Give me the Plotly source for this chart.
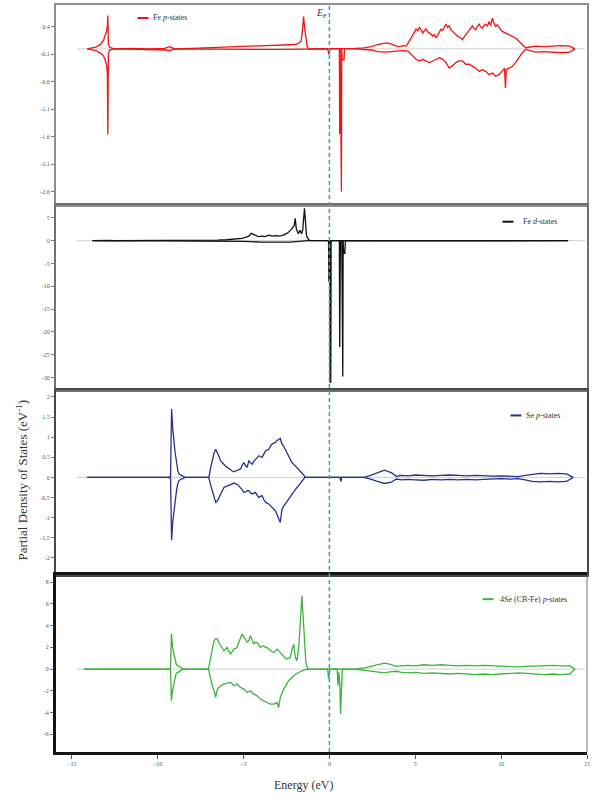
import plotly.graph_objects as go
from plotly.subplots import make_subplots

# ---------------- data (energy in eV, PDOS in 1/eV) ----------------
fe_p_up = [(-14.1, 0), (-13.8, 0.01), (-13.6, 0.03), (-13.45, 0.06), (-13.3, 0.09), (-13.15, 0.16), (-13.05, 0.24),
           (-12.97, 0.33), (-12.93, 0.42), (-12.9, 0.61), (-12.87, 0.1), (-12.8, 0.03), (-12.6, 0.01), (-12.3, 0.0),
           (-11.5, 0.01), (-10.5, 0.0), (-9.6, 0.01), (-9.45, 0.03), (-9.3, 0.04), (-9.15, 0.02), (-9.0, 0.0),
           (-8.0, 0.01), (-7.0, 0.02), (-6.0, 0.03), (-5.0, 0.04), (-4.0, 0.05), (-3.0, 0.06), (-2.5, 0.07),
           (-2.0, 0.08), (-1.8, 0.1), (-1.65, 0.14), (-1.58, 0.3), (-1.53, 0.48), (-1.5, 0.59), (-1.45, 0.4),
           (-1.38, 0.2), (-1.3, 0.05), (-1.2, 0.0), (-0.5, 0.0), (0.5, 0.0), (1.5, 0.01), (2.0, 0.02), (2.45, 0.04),
           (2.8, 0.08), (3.1, 0.1), (3.32, 0.11), (3.6, 0.09), (3.9, 0.05), (4.1, 0.04), (4.3, 0.06), (4.48, 0.05),
           (4.57, 0.1), (4.7, 0.17), (4.86, 0.25), (4.95, 0.3), (5.05, 0.36), (5.15, 0.33), (5.24, 0.39),
           (5.34, 0.35), (5.44, 0.29), (5.53, 0.33), (5.63, 0.36), (5.72, 0.31), (5.82, 0.29), (5.92, 0.27),
           (6.02, 0.23), (6.11, 0.26), (6.21, 0.2), (6.30, 0.25), (6.40, 0.32), (6.50, 0.36), (6.59, 0.34),
           (6.69, 0.4), (6.79, 0.45), (6.88, 0.39), (6.98, 0.42), (7.07, 0.35), (7.17, 0.32), (7.27, 0.28),
           (7.36, 0.26), (7.46, 0.23), (7.56, 0.22), (7.65, 0.19), (7.75, 0.17), (7.85, 0.22), (7.94, 0.26),
           (8.04, 0.3), (8.14, 0.34), (8.23, 0.38), (8.33, 0.42), (8.43, 0.37), (8.52, 0.35), (8.62, 0.41),
           (8.72, 0.45), (8.81, 0.4), (8.91, 0.38), (9.01, 0.43), (9.10, 0.45), (9.20, 0.41), (9.30, 0.5),
           (9.39, 0.42), (9.49, 0.56), (9.58, 0.47), (9.68, 0.41), (9.78, 0.44), (9.88, 0.38), (9.97, 0.35),
           (10.07, 0.32), (10.26, 0.29), (10.46, 0.26), (10.65, 0.23), (10.84, 0.2), (11.04, 0.14), (11.23, 0.08),
           (11.42, 0.02), (11.6, 0.03), (12.0, 0.05), (12.5, 0.04), (13.0, 0.05), (13.5, 0.06), (14.0, 0.05),
           (14.3, 0.0)]
fe_p_dn = [(-14.1, 0), (-13.8, -0.01), (-13.6, -0.03), (-13.45, -0.06), (-13.3, -0.08), (-13.15, -0.13),
           (-13.05, -0.2), (-12.97, -0.3), (-12.93, -0.45), (-12.9, -1.56), (-12.87, -0.1), (-12.8, -0.02),
           (-12.5, 0.0), (-9.5, -0.02), (-9.3, -0.03), (-9.1, -0.01), (-8.5, 0.0), (-3.0, -0.01), (-1.6, -0.01),
           (-1.0, 0.0), (-0.1, 0.0), (-0.03, -0.1), (0.03, 0.0), (0.58, 0.0), (0.6, -1.55), (0.63, 0.0),
           (0.66, -2.6), (0.7, -2.6), (0.72, 0.0), (0.75, -0.2), (0.85, -0.2), (0.88, 0.0), (1.5, 0.0),
           (2.0, -0.01), (2.45, -0.02), (2.8, -0.05), (3.32, -0.06), (3.9, -0.04), (4.3, -0.03), (4.57, -0.04),
           (4.86, -0.13), (5.05, -0.19), (5.24, -0.22), (5.44, -0.19), (5.63, -0.22), (5.82, -0.25), (6.02, -0.22),
           (6.21, -0.19), (6.40, -0.16), (6.59, -0.19), (6.79, -0.25), (6.98, -0.35), (7.17, -0.31), (7.36, -0.25),
           (7.56, -0.22), (7.75, -0.22), (7.94, -0.28), (8.14, -0.28), (8.33, -0.31), (8.52, -0.35), (8.72, -0.41),
           (8.91, -0.38), (9.10, -0.41), (9.30, -0.47), (9.49, -0.44), (9.68, -0.5), (9.88, -0.47), (10.07, -0.41),
           (10.2, -0.35), (10.25, -0.71), (10.3, -0.38), (10.46, -0.35), (10.65, -0.32), (10.84, -0.25),
           (11.04, -0.16), (11.23, -0.07), (11.42, -0.01), (11.6, -0.03), (12.0, -0.06), (12.5, -0.05),
           (13.0, -0.06), (13.5, -0.07), (14.0, -0.06), (14.3, 0.0)]

fe_d_up = [(-13.8, 0), (-13.2, 0.05), (-13.0, 0.2), (-12.9, 0.05), (-12.5, 0), (-7.0, 0.0), (-6.5, 0.1),
           (-6.0, 0.2), (-5.66, 0.3), (-5.3, 0.4), (-5.08, 0.5), (-4.9, 0.7), (-4.69, 1.0), (-4.55, 1.6),
           (-4.45, 1.4), (-4.3, 1.1), (-4.15, 0.9), (-3.92, 1.0), (-3.75, 0.9), (-3.53, 1.2), (-3.35, 1.0),
           (-3.14, 1.1), (-2.95, 1.0), (-2.76, 1.1), (-2.6, 1.3), (-2.47, 1.6), (-2.28, 2.2), (-2.15, 2.7),
           (-2.05, 3.3), (-1.99, 4.9), (-1.93, 2.7), (-1.85, 1.8), (-1.8, 1.6), (-1.72, 2.3), (-1.62, 1.5),
           (-1.55, 2.5), (-1.5, 5.4), (-1.45, 7.1), (-1.4, 4.5), (-1.33, 1.0), (-1.22, 0.3), (-1.12, 0.0),
           (13.9, 0.0)]
fe_d_dn = [(-13.8, 0), (-13.2, -0.05), (-13.0, -0.2), (-12.9, -0.05), (-12.5, 0), (-6.0, -0.05), (-5.0, -0.15),
           (-4.0, -0.3), (-3.0, -0.35), (-2.3, -0.3), (-1.8, -0.15), (-1.2, 0.0), (-0.05, 0.0), (-0.03, -9.0),
           (0.0, 0.0), (0.02, 0.0), (0.04, -31.0), (0.08, -31.0), (0.1, 0.0), (0.58, 0.0), (0.6, -23.3),
           (0.64, 0.0), (0.72, 0.0), (0.74, -29.8), (0.78, -29.8), (0.8, 0.0), (0.83, -2.8), (0.9, -2.8),
           (0.93, 0.0), (2.0, -0.05), (5.0, -0.05), (10.0, -0.05), (13.9, 0.0)]

se_p_up = [(-14.1, 0), (-9.4, 0), (-9.25, 0.02), (-9.19, 1.70), (-9.12, 1.2), (-9.05, 0.85), (-8.98, 0.6),
           (-8.93, 0.47), (-8.88, 0.3), (-8.82, 0.15), (-8.74, 0.08), (-8.65, 0.06), (-8.55, 0.02), (-8.4, 0),
           (-7.05, 0), (-7.01, 0.02), (-6.91, 0.25), (-6.81, 0.45), (-6.72, 0.6), (-6.62, 0.70), (-6.52, 0.62),
           (-6.43, 0.52), (-6.33, 0.41), (-6.24, 0.36), (-6.14, 0.33), (-6.04, 0.28), (-5.95, 0.25), (-5.85, 0.21),
           (-5.75, 0.19), (-5.66, 0.16), (-5.56, 0.14), (-5.46, 0.16), (-5.37, 0.17), (-5.27, 0.2), (-5.17, 0.21),
           (-5.08, 0.3), (-4.98, 0.37), (-4.88, 0.29), (-4.79, 0.25), (-4.69, 0.41), (-4.6, 0.36), (-4.50, 0.33),
           (-4.4, 0.4), (-4.31, 0.45), (-4.21, 0.5), (-4.11, 0.54), (-4.02, 0.52), (-3.92, 0.50), (-3.82, 0.58),
           (-3.72, 0.66), (-3.63, 0.68), (-3.53, 0.70), (-3.44, 0.77), (-3.34, 0.83), (-3.24, 0.85), (-3.14, 0.87),
           (-3.05, 0.92), (-2.95, 0.95), (-2.86, 0.97), (-2.81, 0.9), (-2.76, 0.83), (-2.67, 0.78), (-2.57, 0.70),
           (-2.47, 0.62), (-2.37, 0.54), (-2.28, 0.46), (-2.18, 0.37), (-2.08, 0.33), (-1.99, 0.29), (-1.89, 0.25),
           (-1.80, 0.21), (-1.70, 0.16), (-1.60, 0.12), (-1.5, 0.06), (-1.41, 0.0), (2.0, 0.0), (2.4, 0.05),
           (2.8, 0.12), (3.2, 0.18), (3.6, 0.12), (3.9, 0.03), (4.2, 0.05), (4.6, 0.04), (5.0, 0.06), (5.5, 0.05),
           (6.0, 0.04), (6.5, 0.05), (7.0, 0.06), (7.5, 0.05), (8.0, 0.04), (8.5, 0.05), (9.0, 0.04), (9.5, 0.03),
           (10.0, 0.04), (10.5, 0.03), (11.0, 0.02), (11.4, 0.05), (11.8, 0.08), (12.3, 0.1), (12.8, 0.09),
           (13.3, 0.1), (13.8, 0.09), (14.2, 0.0)]
se_p_dn = [(-14.1, 0), (-9.4, 0), (-9.25, -0.02), (-9.19, -1.56), (-9.12, -1.1), (-9.05, -0.8), (-8.98, -0.55),
           (-8.93, -0.42), (-8.88, -0.27), (-8.82, -0.14), (-8.74, -0.07), (-8.65, -0.05), (-8.55, -0.02),
           (-8.4, 0), (-7.05, 0), (-7.01, -0.02), (-6.91, -0.2), (-6.81, -0.37), (-6.72, -0.5), (-6.62, -0.62),
           (-6.52, -0.58), (-6.43, -0.5), (-6.33, -0.41), (-6.24, -0.33), (-6.14, -0.25), (-6.04, -0.23),
           (-5.95, -0.22), (-5.85, -0.21), (-5.75, -0.18), (-5.66, -0.16), (-5.56, -0.14), (-5.46, -0.16),
           (-5.37, -0.17), (-5.27, -0.21), (-5.17, -0.25), (-5.08, -0.31), (-4.98, -0.37), (-4.88, -0.36),
           (-4.79, -0.33), (-4.69, -0.33), (-4.6, -0.38), (-4.50, -0.41), (-4.4, -0.39), (-4.31, -0.37),
           (-4.21, -0.44), (-4.11, -0.50), (-4.02, -0.47), (-3.92, -0.45), (-3.82, -0.55), (-3.72, -0.62),
           (-3.63, -0.64), (-3.53, -0.66), (-3.44, -0.70), (-3.34, -0.74), (-3.24, -0.78), (-3.14, -0.83),
           (-3.05, -0.92), (-2.95, -1.03), (-2.86, -1.12), (-2.81, -0.95), (-2.76, -0.79), (-2.67, -0.72),
           (-2.57, -0.66), (-2.47, -0.6), (-2.37, -0.54), (-2.28, -0.47), (-2.18, -0.41), (-2.08, -0.35),
           (-1.99, -0.29), (-1.89, -0.25), (-1.80, -0.21), (-1.70, -0.15), (-1.60, -0.08), (-1.5, -0.04),
           (-1.41, 0.0), (0.6, 0.0), (0.68, -0.1), (0.72, 0.0), (2.0, 0.0), (2.4, -0.04), (2.8, -0.1),
           (3.2, -0.15), (3.6, -0.12), (3.9, -0.04), (4.2, -0.06), (4.6, -0.05), (5.0, -0.06), (5.5, -0.07),
           (6.0, -0.05), (6.5, -0.06), (7.0, -0.05), (7.5, -0.06), (8.0, -0.05), (8.5, -0.06), (9.0, -0.05),
           (9.5, -0.04), (10.0, -0.03), (10.5, -0.04), (11.0, -0.03), (11.4, -0.06), (11.8, -0.1), (12.3, -0.11),
           (12.8, -0.1), (13.3, -0.11), (13.8, -0.1), (14.2, 0.0)]

se4_p_up = [(-14.3, 0), (-9.35, 0), (-9.25, 0.1), (-9.2, 3.28), (-9.13, 2.0), (-9.05, 1.38), (-8.98, 0.9),
            (-8.92, 0.46), (-8.85, 0.32), (-8.75, 0.28), (-8.65, 0.15), (-8.5, 0.0), (-7.04, 0.0), (-6.91, 1.07),
            (-6.81, 1.9), (-6.72, 2.61), (-6.62, 2.8), (-6.52, 2.76), (-6.43, 2.4), (-6.33, 2.15), (-6.24, 1.9),
            (-6.14, 1.69), (-6.04, 1.85), (-5.95, 1.99), (-5.85, 1.6), (-5.75, 1.38), (-5.66, 1.6), (-5.56, 1.84),
            (-5.46, 1.9), (-5.37, 1.99), (-5.27, 2.5), (-5.17, 2.91), (-5.08, 3.22), (-4.98, 2.9), (-4.88, 2.76),
            (-4.79, 2.5), (-4.69, 2.61), (-4.60, 3.07), (-4.5, 2.7), (-4.40, 2.30), (-4.31, 2.5), (-4.21, 2.45),
            (-4.11, 2.2), (-4.02, 1.99), (-3.92, 2.1), (-3.82, 2.15), (-3.72, 2.0), (-3.63, 1.99), (-3.53, 1.85),
            (-3.44, 1.69), (-3.34, 1.6), (-3.24, 1.53), (-3.14, 1.7), (-3.05, 1.84), (-2.95, 1.7), (-2.86, 1.53),
            (-2.76, 1.3), (-2.66, 1.07), (-2.57, 1.0), (-2.47, 0.92), (-2.38, 1.0), (-2.28, 1.07), (-2.18, 1.8),
            (-2.08, 2.30), (-2.03, 1.5), (-1.99, 1.07), (-1.94, 0.9), (-1.89, 0.77), (-1.82, 1.5), (-1.76, 2.61),
            (-1.7, 4.0), (-1.64, 5.67), (-1.60, 6.75), (-1.55, 5.37), (-1.51, 4.0), (-1.47, 2.61), (-1.42, 1.5),
            (-1.37, 0.61), (-1.26, 0.0), (1.5, 0.0), (2.0, 0.1), (2.5, 0.3), (2.9, 0.5), (3.2, 0.55), (3.5, 0.45),
            (3.9, 0.25), (4.2, 0.3), (4.6, 0.35), (5.0, 0.3), (5.5, 0.4), (6.0, 0.35), (6.5, 0.4), (7.0, 0.35),
            (7.5, 0.3), (8.0, 0.35), (8.5, 0.3), (9.0, 0.35), (9.5, 0.3), (10.0, 0.3), (10.5, 0.25), (11.0, 0.2),
            (11.5, 0.25), (12.0, 0.3), (12.5, 0.3), (13.0, 0.35), (13.5, 0.3), (14.0, 0.3), (14.3, 0.0)]
se4_p_dn = [(-14.3, 0), (-9.35, 0), (-9.25, -0.1), (-9.2, -2.9), (-9.13, -1.9), (-9.05, -1.3), (-8.98, -0.8),
            (-8.92, -0.4), (-8.85, -0.3), (-8.75, -0.25), (-8.65, -0.12), (-8.5, 0.0), (-7.04, 0.0),
            (-6.91, -1.07), (-6.81, -1.6), (-6.72, -1.99), (-6.62, -2.61), (-6.52, -1.84), (-6.43, -1.7),
            (-6.33, -1.53), (-6.14, -1.38), (-5.95, -1.3), (-5.75, -1.23), (-5.56, -1.53), (-5.37, -1.38),
            (-5.17, -1.69), (-4.98, -1.84), (-4.79, -2.15), (-4.60, -1.99), (-4.40, -2.30), (-4.21, -2.45),
            (-4.02, -2.76), (-3.82, -2.91), (-3.63, -3.07), (-3.44, -3.22), (-3.24, -3.22), (-3.05, -3.07),
            (-2.95, -3.53), (-2.86, -2.61), (-2.66, -1.84), (-2.37, -1.07), (-2.08, -0.61), (-1.80, -0.31),
            (-1.50, -0.09), (-1.26, 0.0), (-0.1, 0.0), (-0.05, -0.9), (0.0, -0.3), (0.05, 0.0), (0.45, 0.0),
            (0.5, -1.5), (0.55, -0.3), (0.6, -1.2), (0.65, -4.1), (0.7, -1.0), (0.75, 0.0), (1.5, 0.0),
            (2.0, -0.1), (2.5, -0.2), (2.9, -0.3), (3.2, -0.35), (3.5, -0.25), (3.9, -0.2), (4.2, -0.3),
            (4.6, -0.35), (5.0, -0.3), (5.5, -0.4), (6.0, -0.35), (6.5, -0.4), (7.0, -0.45), (7.5, -0.4),
            (8.0, -0.45), (8.5, -0.5), (9.0, -0.45), (9.5, -0.5), (10.0, -0.45), (10.5, -0.4), (11.0, -0.35),
            (11.5, -0.4), (12.0, -0.45), (12.5, -0.5), (13.0, -0.45), (13.5, -0.5), (14.0, -0.45), (14.3, 0.0)]

series_names = ["Fe <i>p</i>-states", "Fe <i>d</i>-states", "Se <i>p</i>-states", "4Se (CB-Fe) <i>p</i>-states"]
series_up = [fe_p_up, fe_d_up, se_p_up, se4_p_up]
series_dn = [fe_p_dn, fe_d_dn, se_p_dn, se4_p_dn]
colors = ["#f01414", "#111111", "#26308c", "#3cb43c"]

y_ranges = [[-2.84, 0.80], [-32.85, 7.88], [-2.43, 2.16], [-7.63, 8.64]]
y_ticks = [[0.4, -0.1, -0.6, -1.1, -1.6, -2.1, -2.6],
           [5, 0, -5, -10, -15, -20, -25, -30],
           [2, 1.5, 1, 0.5, 0, -0.5, -1, -1.5, -2],
           [8, 6, 4, 2, 0, -2, -4, -6]]
x_ticks = [-15, -10, -5, 0, 5, 10, 15]
x_range = [-15.92, 15.0]
baseline_extent = [-14.7, 14.9]
fermi_level = 0.0

# ---------------- figure ----------------
SERIF = "Liberation Serif"
fig = make_subplots(rows=4, cols=1, shared_xaxes=True, vertical_spacing=0,
                    row_heights=[200, 186, 185, 177])

frame_colors = ["#8e8e8e", "#707070", "#4a4a4a", "#151515"]
frame_widths = [2, 2, 2, 3]

for i in range(4):
    r = i + 1
    # faint zero baseline
    fig.add_trace(go.Scatter(x=baseline_extent, y=[0, 0], mode="lines",
                             line=dict(color="#cfcfcf", width=1), hoverinfo="skip",
                             showlegend=False), row=r, col=1)
    for data in (series_up[i], series_dn[i]):
        ex = [p[0] for p in data]
        ev = [p[1] for p in data]
        fig.add_trace(go.Scatter(x=ex, y=ev, mode="lines",
                                 line=dict(color=colors[i], width=1.3),
                                 showlegend=False), row=r, col=1)
    yk = "yaxis" if r == 1 else f"yaxis{r}"
    xk = "xaxis" if r == 1 else f"xaxis{r}"
    fig.layout[yk].update(range=y_ranges[i], tickvals=y_ticks[i],
                          ticktext=[("%g" % v) for v in y_ticks[i]],
                          ticks="outside", ticklen=3, tickwidth=1, tickcolor="#777",
                          tickfont=dict(family=SERIF, size=6, color="#555"),
                          showgrid=False, zeroline=False, showline=True, mirror=(r < 4),
                          linecolor=frame_colors[i], linewidth=frame_widths[i])
    fig.layout[xk].update(range=x_range, showgrid=False, zeroline=False,
                          showline=True, mirror=True, linecolor=frame_colors[i],
                          linewidth=frame_widths[i], ticks="", showticklabels=False)

fig.layout["xaxis4"].update(tickvals=x_ticks, ticks="outside", ticklen=4, tickcolor="#555",
                            showticklabels=True,
                            tickfont=dict(family=SERIF, size=6, color="#555"))

# thin right border of the bottom panel
fig.add_shape(type="line", xref="x4 domain", yref="y4 domain", x0=1, x1=1, y0=0, y1=1,
              line=dict(color="#777", width=1))

# Fermi level dashed line
fig.add_shape(type="line", xref="x4", yref="paper", x0=fermi_level, x1=fermi_level,
              y0=0, y1=1, line=dict(color="#2aa3d6", width=1.5, dash="4px,3px"), layer="above")

W, H = 593, 798
L, R, T, B = 56, 3, 4, 46
pw, ph = W - L - R, H - T - B


def px(x):
    return (x - L) / pw


def py(y):
    return (H - B - y) / ph


# legends (short line + text per panel)
legend_pos = [(138, 149, 17), (505, 516, 221), (513, 524, 415), (485, 496, 599)]
text_x = [152, 524, 527, 500]
for i in range(4):
    x0, x1, yy = legend_pos[i]
    fig.add_shape(type="line", xref="paper", yref="paper", x0=px(x0), x1=px(x1),
                  y0=py(yy), y1=py(yy), line=dict(color=colors[i], width=2))
    fig.add_annotation(xref="paper", yref="paper", x=px(text_x[i]), y=py(yy),
                       xanchor="left", yanchor="middle", showarrow=False,
                       text=series_names[i], font=dict(family=SERIF, size=8, color="#333"))

# E_F label
fig.add_annotation(xref="paper", yref="paper", x=px(323), y=py(13), showarrow=False,
                   xanchor="center", yanchor="middle", text="<i>E</i><sub>F</sub>",
                   font=dict(family=SERIF, size=10, color="#333"))

# axis titles
fig.add_annotation(xref="paper", yref="paper", x=px(22), y=py(480), showarrow=False,
                   textangle=-90, xanchor="center", yanchor="middle",
                   text="Partial Density of States (eV<sup>-1</sup>)",
                   font=dict(family=SERIF, size=13, color="#333"))
fig.add_annotation(xref="paper", yref="paper", x=px(305), y=py(785), showarrow=False,
                   xanchor="center", yanchor="middle", text="Energy (eV)",
                   font=dict(family=SERIF, size=12, color="#333"))

fig.update_layout(width=W, height=H, margin=dict(l=L, r=R, t=T, b=B),
                  plot_bgcolor="white", paper_bgcolor="white", showlegend=False)

fig.write_html("out.html", config={"displayModeBar": False},
               post_script="document.body.style.margin='0px';document.body.style.overflow='hidden';")
